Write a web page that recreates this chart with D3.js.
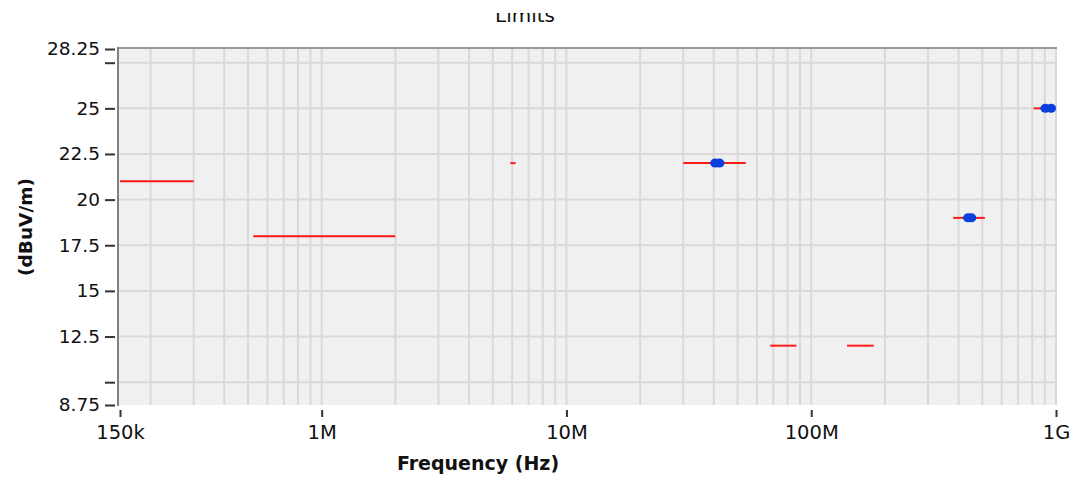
<!DOCTYPE html>
<html>
<head>
<meta charset="utf-8">
<script src="https://cdn.jsdelivr.net/npm/d3@7"></script>
<style>
  html, body { margin: 0; padding: 0; background: #ffffff; }
  svg { display: block; }
</style>
</head>
<body>
<svg id="chart" width="1077" height="482"></svg>
<script>
// ---- data ----
const limitStart = [150e3, 525e3, 5.9e6, 30e6, 68e6, 140e6, 380e6, 810e6];
const limitEnd   = [300e3, 2e6,   6.2e6, 54e6, 87e6, 180e6, 512e6, 960e6];
const limitLevel = [21,    18,    22,    22,   12,   12,    19,    25];

const pointFreq  = [40.5e6, 42.2e6, 437e6, 451e6, 905e6, 955e6];
const pointLevel = [22,     22,     19,    19,    25,    25];

const xTickValues = [150e3, 1e6, 1e7, 1e8, 1e9];
const xTickLabels = ["150k", "1M", "10M", "100M", "1G"];
const yTickValues = [8.75, 10, 12.5, 15, 17.5, 20, 22.5, 25, 27.5, 28.25];
const yTickLabels = ["8.75", "", "12.5", "15", "17.5", "20", "22.5", "25", "", "28.25"];
const yGridValues = [10, 12.5, 15, 17.5, 20, 22.5, 25, 27.5];

const titleText = "Limits";
const xTitle = "Frequency (Hz)";
const yTitle = "(dBuV/m)";

// ---- layout ----
const plotLeft = 118, plotRight = 1057, plotTop = 48, plotBottom = 405;
const svg = d3.select("#chart");

const x = d3.scaleLog().domain([150e3, 1e9]).range([120, 1056]);
const y = d3.scaleLinear().domain([8.75, 28.25]).range([405, 49]);

// vertical gridline values: 1..9 x 10^k inside domain
const xGrid = [];
for (let e = 5; e <= 9; e++) for (let m = 1; m <= 9; m++) {
  const v = m * Math.pow(10, e);
  if (v > 150e3 && v <= 1e9) xGrid.push(v);
}

// title (clipped at top as in reference)
svg.append("defs").append("clipPath").attr("id", "titleClip")
  .append("rect").attr("x", 0).attr("y", 13).attr("width", 1077).attr("height", 30);
svg.append("text")
  .attr("clip-path", "url(#titleClip)")
  .attr("x", 525).attr("y", 22)
  .attr("text-anchor", "middle")
  .attr("font-family", "DejaVu Sans")
  .attr("font-size", 20)
  .attr("fill", "#111")
  .text(titleText);

// plot background
svg.append("rect")
  .attr("x", plotLeft).attr("y", plotTop)
  .attr("width", plotRight - plotLeft).attr("height", plotBottom - plotTop)
  .attr("fill", "#f0f0f0");

// grid
const grid = svg.append("g").attr("stroke", "#d9d9d9").attr("stroke-width", 2);
grid.selectAll("line.vx").data(xGrid).enter().append("line")
  .attr("x1", d => x(d)).attr("x2", d => x(d))
  .attr("y1", plotTop).attr("y2", plotBottom);
grid.selectAll("line.hy").data(yGridValues).enter().append("line")
  .attr("x1", plotLeft).attr("x2", plotRight)
  .attr("y1", d => y(d)).attr("y2", d => y(d));

// top border
svg.append("line")
  .attr("x1", plotLeft).attr("x2", plotRight)
  .attr("y1", plotTop).attr("y2", plotTop)
  .attr("stroke", "#9a9a9a").attr("stroke-width", 2);
// left axis line
svg.append("line")
  .attr("x1", plotLeft).attr("x2", plotLeft)
  .attr("y1", plotTop - 1).attr("y2", plotBottom + 1)
  .attr("stroke", "#808080").attr("stroke-width", 2);

// y axis ticks + labels
const yAxis = d3.axisLeft(y)
  .tickValues(yTickValues)
  .tickFormat((d, i) => yTickLabels[i])
  .tickSize(10)
  .tickPadding(5);
const gy = svg.append("g").attr("transform", `translate(${plotLeft - 3},0)`).call(yAxis);
gy.select(".domain").remove();
gy.selectAll(".tick line").attr("stroke", "#333").attr("stroke-width", 2);
gy.selectAll(".tick text")
  .attr("font-family", "DejaVu Sans").attr("font-size", 18.5).attr("fill", "#111");

// x axis ticks + labels
const xAxis = d3.axisBottom(x)
  .tickValues(xTickValues)
  .tickFormat((d, i) => xTickLabels[i])
  .tickSize(7)
  .tickPadding(8);
const gx = svg.append("g").attr("transform", `translate(0,${plotBottom + 5})`).call(xAxis);
gx.select(".domain").remove();
gx.selectAll(".tick line").attr("stroke", "#333").attr("stroke-width", 2);
gx.selectAll(".tick text")
  .attr("font-family", "DejaVu Sans").attr("font-size", 19.5).attr("fill", "#111");

// axis titles
svg.append("text")
  .attr("x", 478).attr("y", 470)
  .attr("text-anchor", "middle")
  .attr("font-family", "DejaVu Sans").attr("font-weight", "bold")
  .attr("font-size", 19).attr("fill", "#111")
  .text(xTitle);
svg.append("text")
  .attr("transform", "translate(32,227) rotate(-90)")
  .attr("text-anchor", "middle")
  .attr("font-family", "DejaVu Sans").attr("font-weight", "bold")
  .attr("font-size", 18.5).attr("fill", "#111")
  .text(yTitle);

// limit segments
const segs = limitStart.map((s, i) => ({ s, e: limitEnd[i], v: limitLevel[i] }));
svg.append("g").selectAll("line").data(segs).enter().append("line")
  .attr("x1", d => x(d.s)).attr("x2", d => x(d.e))
  .attr("y1", d => y(d.v)).attr("y2", d => y(d.v))
  .attr("stroke", "#ff1a1a").attr("stroke-width", 2);

// measurement points
const pts = pointFreq.map((f, i) => ({ f, v: pointLevel[i] }));
svg.append("g").selectAll("ellipse").data(pts).enter().append("ellipse")
  .attr("cx", d => x(d.f)).attr("cy", d => y(d.v))
  .attr("rx", 5).attr("ry", 4.5)
  .attr("fill", "#0a3fe0");
</script>
</body>
</html>
